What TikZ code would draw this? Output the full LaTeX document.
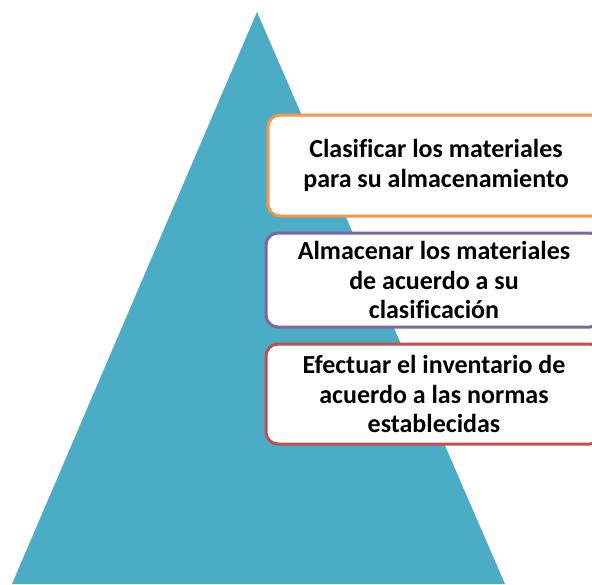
\documentclass[tikz,border=0pt]{standalone}
\usepackage{fontspec}
\setmainfont[Ligatures = NoCommon]{Carlito}

\definecolor{piramide}{HTML}{4BACC6}
\definecolor{naranja}{HTML}{F79646}
\definecolor{morado}{HTML}{8064A2}
\definecolor{rojo}{HTML}{C0504D}

\tikzset{
	paso/.style = {fill = white, line width = 3pt, rounded corners = 12pt, align = center,
		minimum width = 336pt, inner sep = 0pt,
		font = \bfseries\fontsize{26}{29.5}\selectfont}
}

\begin{document}
\begin{tikzpicture}[x = 1pt, y = -1pt]
					\useasboundingbox (0, 0) rectangle (592, 584);
					\clip (0, 0) rectangle (592, 584);

					\coordinate (p1) at (257, 12);
					\coordinate (p2) at (505, 584);
					\coordinate (p3) at (12, 584);

					\fill [piramide] (p1) -- (p2) -- (p3) -- cycle;

					\node [paso, draw = naranja, minimum height = 101pt] (B1) at (436, 165.5) {Clasificar los materiales\\para su almacenamiento};
					\node [paso, draw = morado, minimum height = 94pt] (B2) at (434, 280) {Almacenar los materiales\\de acuerdo a su\\clasificación};
					\node [paso, draw = rojo, minimum height = 100pt] (B3) at (434, 394) {Efectuar el inventario de\\acuerdo a las normas\\establecidas};
				\end{tikzpicture}
\end{document}
